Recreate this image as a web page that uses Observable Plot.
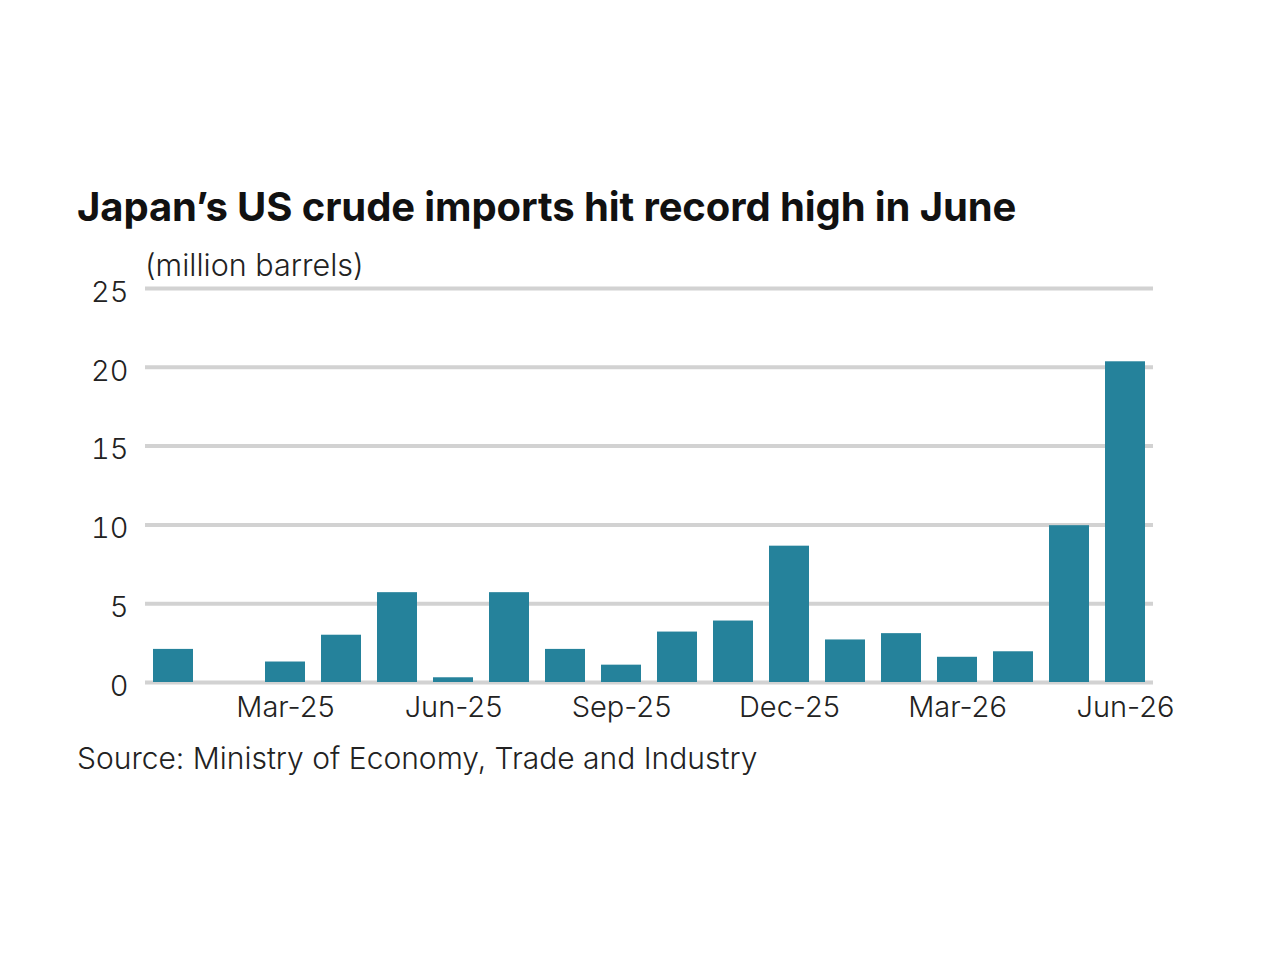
<!DOCTYPE html>
<html>
<head>
<meta charset="utf-8">
<script src="https://cdn.jsdelivr.net/npm/d3@7"></script>
<script src="https://cdn.jsdelivr.net/npm/@observablehq/plot@0.6"></script>
<style>
  html, body { margin: 0; padding: 0; background: #fff; }
  body { width: 1280px; height: 960px; position: relative; overflow: hidden; font-family: Inter, Roboto, sans-serif; }
  #title { position: absolute; left: 77px; top: 182px; font-size: 40px; font-weight: 700; color: #111; white-space: nowrap; z-index: 2; letter-spacing: -0.1px; }
  #subtitle { position: absolute; left: 145px; top: 246px; font-size: 30.5px; font-weight: 300; color: #222; white-space: nowrap; z-index: 2; }
  #chart { position: absolute; left: 0; top: 240px; z-index: 1; }
  #source { position: absolute; left: 77px; top: 740px; font-size: 30px; font-weight: 300; color: #222; white-space: nowrap; z-index: 2; }
</style>
</head>
<body>
<div id="title">Japan’s US crude imports hit record high in June</div>
<div id="subtitle">(million barrels)</div>
<div id="chart"></div>
<div id="source">Source: Ministry of Economy, Trade and Industry</div>
<script>
const months = ["Jan-25","Feb-25","Mar-25","Apr-25","May-25","Jun-25","Jul-25","Aug-25","Sep-25","Oct-25","Nov-25","Dec-25","Jan-26","Feb-26","Mar-26","Apr-26","May-26","Jun-26"];
const imports = [2.1, 0, 1.3, 3.0, 5.7, 0.3, 5.7, 2.1, 1.1, 3.2, 3.9, 8.65, 2.7, 3.1, 1.6, 1.95, 9.95, 20.35];
const xTickLabels = ["Mar-25","Jun-25","Sep-25","Dec-25","Mar-26","Jun-26"];
const yTicks = [0, 5, 10, 15, 20, 25];

const data = months.map((m, i) => ({month: m, value: imports[i]}));

const chart = Plot.plot({
  width: 1280,
  height: 500,
  marginLeft: 145,
  marginRight: 127,
  marginTop: 48,
  marginBottom: 58,
  style: { fontFamily: "Inter, Roboto, sans-serif", fontSize: "29px", fontWeight: 300, color: "#222", background: "transparent" },
  x: { domain: months, padding: 0.2857, range: [137, 1161], label: null },
  y: { domain: [0, 25], label: null },
  marks: [
    Plot.ruleY(yTicks, { stroke: "#d2d2d2", strokeWidth: 4 }),
    Plot.barY(data, { x: "month", y: "value", fill: "#25829b" }),
    Plot.axisX({ ticks: xTickLabels, tickSize: 0, tickPadding: 14, label: null, fill: "#222" }),
    Plot.axisY({ ticks: yTicks, tickSize: 0, tickPadding: 17, label: null, dy: 4, fill: "#222" })
  ]
});
document.getElementById("chart").appendChild(chart);
</script>
</body>
</html>
